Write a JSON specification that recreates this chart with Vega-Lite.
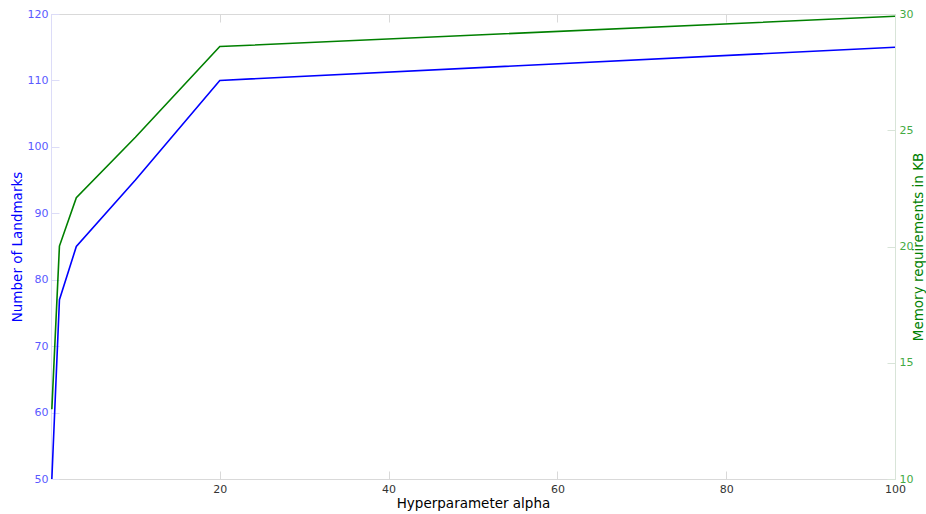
{
  "$schema": "https://vega.github.io/schema/vega-lite/v6.json",
  "width": 844,
  "height": 465,
  "autosize": "none",
  "padding": {"left": 51, "top": 14, "right": 31, "bottom": 35},
  "config": {
    "view": {"stroke": "#d9d9d9", "strokeWidth": 1},
    "font": "DejaVu Sans",
    "axis": {
      "labelFont": "DejaVu Sans",
      "titleFont": "DejaVu Sans",
      "labelFontSize": 11,
      "titleFontSize": 13.5,
      "titleFontWeight": "normal",
      "labelFlush": false,
      "grid": false
    }
  },
  "data": {
    "values": [
      {"alpha": 0.1, "landmarks": 50, "memory": 13.0},
      {"alpha": 1, "landmarks": 77, "memory": 20.02},
      {"alpha": 3, "landmarks": 85, "memory": 22.1},
      {"alpha": 10, "landmarks": 95, "memory": 24.7},
      {"alpha": 20, "landmarks": 110, "memory": 28.6},
      {"alpha": 100, "landmarks": 115, "memory": 29.9}
    ]
  },
  "layer": [
    {
      "mark": {"type": "line", "color": "#0000ff", "strokeWidth": 1.6},
      "encoding": {
        "x": {
          "field": "alpha",
          "type": "quantitative",
          "scale": {"domain": [0, 100], "nice": false},
          "axis": {
            "values": [20, 40, 60, 80, 100],
            "title": "Hyperparameter alpha",
            "tickSize": -8,
            "labelPadding": 12,
            "domainColor": "#d9d9d9",
            "tickColor": "#d9d9d9",
            "labelColor": "#333333",
            "titleColor": "#000000",
            "titlePadding": 2
          }
        },
        "y": {
          "field": "landmarks",
          "type": "quantitative",
          "scale": {"domain": [50, 120], "nice": false, "zero": false},
          "axis": {
            "orient": "left",
            "values": [50, 60, 70, 80, 90, 100, 110, 120],
            "title": "Number of Landmarks",
            "tickSize": -8,
            "labelPadding": 11,
            "domainColor": "#dcdcf8",
            "tickColor": "#dcdcf8",
            "labelColor": "#5a5aff",
            "titleColor": "#0000ff",
            "titlePadding": 3
          }
        }
      }
    },
    {
      "mark": {"type": "line", "color": "#008000", "strokeWidth": 1.6},
      "encoding": {
        "x": {
          "field": "alpha",
          "type": "quantitative",
          "scale": {"domain": [0, 100], "nice": false},
          "axis": {
            "orient": "top",
            "values": [20, 40, 60, 80, 100],
            "labels": false,
            "title": null,
            "tickSize": -8,
            "domainColor": "#d9d9d9",
            "tickColor": "#d9d9d9"
          }
        },
        "y": {
          "field": "memory",
          "type": "quantitative",
          "scale": {"domain": [10, 30], "nice": false, "zero": false},
          "axis": {
            "orient": "right",
            "values": [10, 15, 20, 25, 30],
            "title": "Memory requirements in KB",
            "titleAngle": 270,
            "tickSize": -8,
            "labelPadding": 12,
            "domainColor": "#d8e4d8",
            "tickColor": "#d8e4d8",
            "labelColor": "#44aa44",
            "titleColor": "#008000",
            "titlePadding": 13
          }
        }
      }
    }
  ],
  "resolve": {"scale": {"y": "independent"}, "axis": {"x": "independent"}}
}
